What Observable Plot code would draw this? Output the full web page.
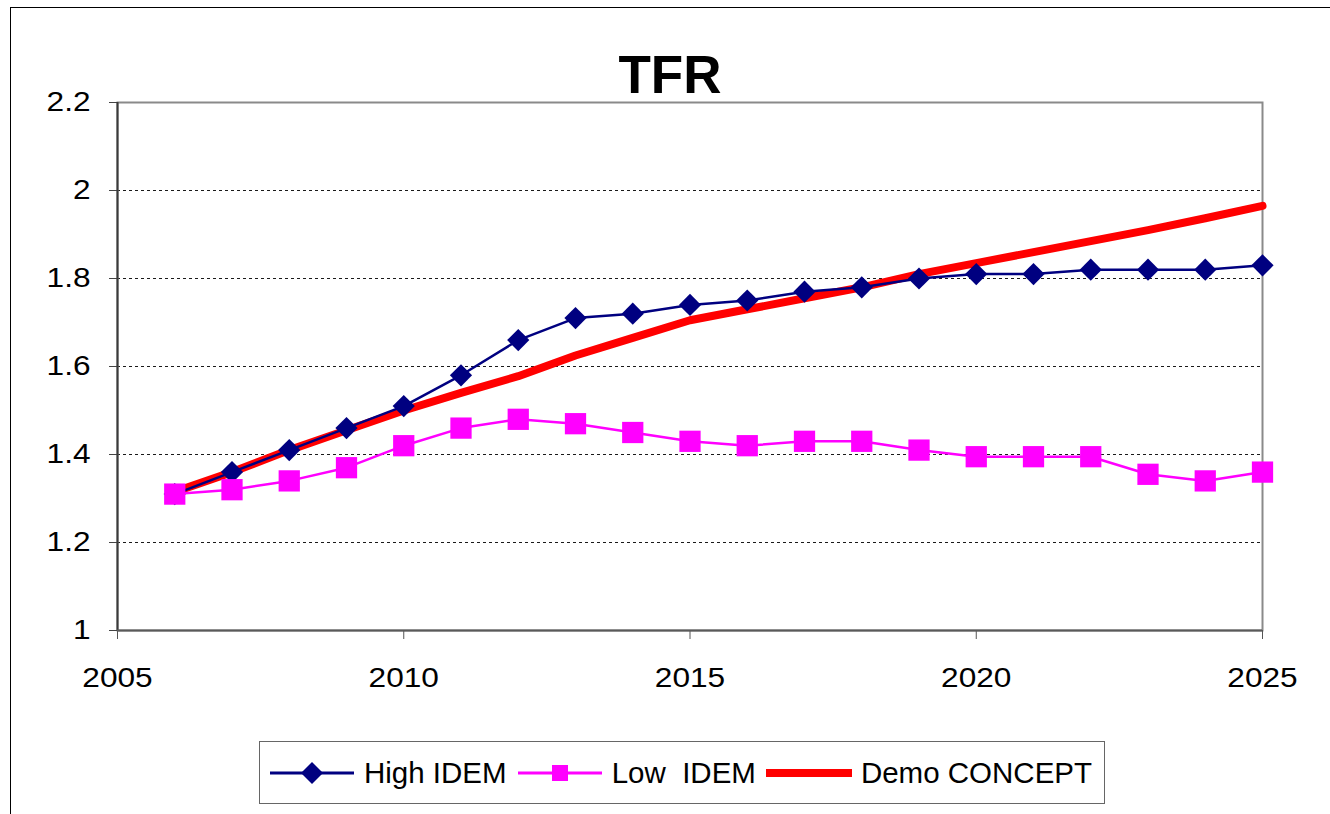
<!DOCTYPE html>
<html>
<head>
<meta charset="utf-8">
<script src="https://cdn.jsdelivr.net/npm/d3@7"></script>
<script src="https://cdn.jsdelivr.net/npm/@observablehq/plot@0.6"></script>
<style>
  html, body { margin: 0; padding: 0; background: #fff; }
  #page { position: relative; width: 1330px; height: 814px; overflow: hidden; background: #fff;
          font-family: 'Liberation Sans', Arial, sans-serif; color: #000; }
  #outer { position: absolute; left: 10px; top: 7px; width: 1400px; height: 900px;
           border-left: 1px solid #000; border-top: 1px solid #000; }
  #title { position: absolute; left: 0; top: 48px; width: 1330px; padding-left: 10px; box-sizing: border-box;
           text-align: center; font-weight: bold; font-size: 53px; line-height: 53px; margin: 0; }
  #chart { position: absolute; left: 0; top: 96px; }
  #legend { position: absolute; left: 259px; top: 741px; width: 846px; height: 63px; box-sizing: border-box;
            border: 1.5px solid #666; display: flex; align-items: center; padding-left: 9px;
            font-size: 29.5px; white-space: pre; }
  .item { display: flex; align-items: center; }
  .item svg { display: block; }
  .item span { margin-left: 9px; margin-right: 10px; }
</style>
</head>
<body>
<div id="page">
  <div id="outer"></div>
  <h2 id="title">TFR</h2>
  <div id="chart"></div>
  <div id="legend"></div>
</div>
<script>
const years = [2006, 2007, 2008, 2009, 2010, 2011, 2012, 2013, 2014, 2015,
               2016, 2017, 2018, 2019, 2020, 2021, 2022, 2023, 2024, 2025];
const highIdem = [1.31, 1.36, 1.41, 1.46, 1.51, 1.58, 1.66, 1.71, 1.72, 1.74,
                  1.75, 1.77, 1.78, 1.80, 1.81, 1.81, 1.82, 1.82, 1.82, 1.83];
const lowIdem = [1.31, 1.32, 1.34, 1.37, 1.42, 1.46, 1.48, 1.47, 1.45, 1.43,
                 1.42, 1.43, 1.43, 1.41, 1.395, 1.395, 1.395, 1.355, 1.34, 1.36];
const demoConcept = [1.315, 1.36, 1.41, 1.455, 1.50, 1.54, 1.578, 1.625, 1.665, 1.705,
                     1.73, 1.755, 1.78, 1.81, 1.835, 1.86, 1.885, 1.91, 1.937, 1.965];
const seriesNames = ["High IDEM", "Low  IDEM", "Demo CONCEPT"];
const seriesColors = ["#000080", "#ff00ff", "#ff0000"];
const xTicks = [2005, 2010, 2015, 2020, 2025];
const yTicks = [1, 1.2, 1.4, 1.6, 1.8, 2, 2.2];
const gridTicks = [1.2, 1.4, 1.6, 1.8, 2];

const rows = years.map((year, i) => ({year, high: highIdem[i], low: lowIdem[i], demo: demoConcept[i]}));

const chart = Plot.plot({
  width: 1330,
  height: 624,
  marginTop: 6,
  marginLeft: 117,
  marginRight: 68,
  marginBottom: 90,
  style: {fontFamily: "'Liberation Sans', Arial, sans-serif", fontSize: "27px", color: "#000", background: "transparent", overflow: "visible"},
  x: {domain: [2005, 2025]},
  y: {domain: [1, 2.2]},
  marks: [
    Plot.ruleY(gridTicks, {stroke: "#1a1a1a", strokeWidth: 1, strokeDasharray: "3,3"}),
    Plot.frame({stroke: "#8a8a8a", strokeWidth: 2}),
    Plot.axisY(yTicks, {tickSize: 8, tickPadding: 19, tickFormat: d => String(d), stroke: "#444", fontSize: 27.5, label: null}),
    Plot.axisX(xTicks, {tickSize: 9, tickPadding: 28, tickFormat: d => String(d), stroke: "#555", fontSize: 27.5, label: null}),
    Plot.ruleX([2005], {stroke: "#3a3a3a", strokeWidth: 2}),
    Plot.ruleY([1], {stroke: "#5a5a5a", strokeWidth: 2}),
    Plot.line(rows, {x: "year", y: "demo", stroke: seriesColors[2], strokeWidth: 8, strokeLinejoin: "round", strokeLinecap: "round"}),
    Plot.line(rows, {x: "year", y: "high", stroke: seriesColors[0], strokeWidth: 2.5}),
    Plot.dot(rows, {x: "year", y: "high", symbol: "diamond2", r: 10, fill: seriesColors[0], stroke: "none"}),
    Plot.line(rows, {x: "year", y: "low", stroke: seriesColors[1], strokeWidth: 2.5}),
    Plot.dot(rows, {x: "year", y: "low", symbol: "square", r: 12, fill: seriesColors[1], stroke: "none"})
  ]
});

// stretch tick labels horizontally like the source
chart.querySelectorAll('g[aria-label="y-axis tick label"] text, g[aria-label="x-axis tick label"] text').forEach(el => {
  const t = el.getAttribute("transform");
  if (t) {
    el.setAttribute("transform", t + " scale(1.15,1)");
  } else {
    const x = +el.getAttribute("x") || 0, y = +el.getAttribute("y") || 0;
    el.setAttribute("x", 0); el.setAttribute("y", 0);
    el.setAttribute("transform", `translate(${x},${y}) scale(1.15,1)`);
  }
});

document.getElementById("chart").appendChild(chart);

// legend
const legend = document.getElementById("legend");
seriesNames.forEach((name, i) => {
  const item = document.createElement("div");
  item.className = "item";
  const ns = "http://www.w3.org/2000/svg";
  const svg = document.createElementNS(ns, "svg");
  svg.setAttribute("width", 86);
  svg.setAttribute("height", 30);
  const line = document.createElementNS(ns, "line");
  line.setAttribute("x1", 1); line.setAttribute("x2", 85);
  line.setAttribute("y1", 15); line.setAttribute("y2", 15);
  line.setAttribute("stroke", seriesColors[i]);
  line.setAttribute("stroke-width", i === 2 ? 8 : 3);
  line.setAttribute("stroke-linecap", i === 2 ? "round" : "butt");
  svg.appendChild(line);
  if (i === 0) {
    const p = document.createElementNS(ns, "path");
    p.setAttribute("d", "M43,4 L54,15 L43,26 L32,15 Z");
    p.setAttribute("fill", seriesColors[0]);
    svg.appendChild(p);
  } else if (i === 1) {
    const r = document.createElementNS(ns, "rect");
    r.setAttribute("x", 35); r.setAttribute("y", 7); r.setAttribute("width", 16); r.setAttribute("height", 16);
    r.setAttribute("fill", seriesColors[1]);
    svg.appendChild(r);
  }
  item.appendChild(svg);
  const span = document.createElement("span");
  span.textContent = name;
  item.appendChild(span);
  legend.appendChild(item);
});
</script>
</body>
</html>
